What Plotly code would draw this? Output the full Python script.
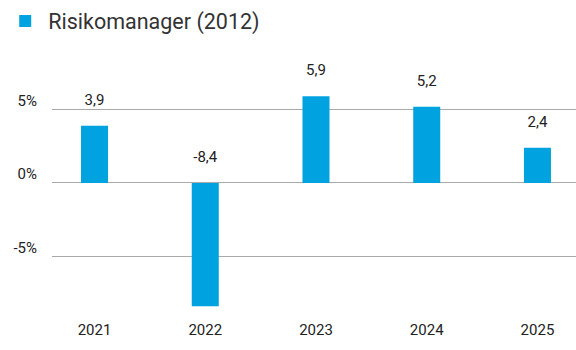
import plotly.graph_objects as go

years = ["2021", "2022", "2023", "2024", "2025"]
values = [3.9, -8.4, 5.9, 5.2, 2.4]
series_name = "Risikomanager (2012)"
y_ticks = [-5, 0, 5]
y_tick_labels = ["-5%", "0%", "5%"]

BLUE = "#00A3DF"
FONT = "Roboto, Arial, sans-serif"

fig = go.Figure()
fig.add_trace(go.Bar(
    x=years, y=values, name=series_name,
    marker=dict(color=BLUE, line=dict(width=0)),
    width=0.244, showlegend=True,
))

# value labels sit above the bar top, or above the baseline for negatives;
# a transparent marker pads the text away from the bar end
label_y = [max(v, 0) for v in values]
label_text = [f"{v:.1f}".replace(".", ",") for v in values]
fig.add_trace(go.Scatter(
    x=years, y=label_y, text=label_text, mode="markers+text",
    marker=dict(size=26, color="rgba(0,0,0,0)"),
    textposition="top center",
    textfont=dict(family=FONT, size=15, color="#222222"),
    showlegend=False, hoverinfo="skip", cliponaxis=False,
))

fig.update_layout(
    width=576, height=350,
    margin=dict(l=52, r=0, t=60, b=35),
    paper_bgcolor="white", plot_bgcolor="white",
    font=dict(family=FONT, size=15, color="#222222"),
    showlegend=True,
    legend=dict(
        x=-0.095, xanchor="left", y=1.243, yanchor="top",
        orientation="h", itemwidth=36,
        font=dict(family=FONT, size=21.5, color="#333333"),
        bgcolor="rgba(0,0,0,0)",
    ),
    xaxis=dict(
        type="category", range=[-0.384, 4.348],
        showgrid=False, showline=False, zeroline=False, ticks="",
        ticklabelstandoff=4,
        tickfont=dict(family=FONT, size=15, color="#222222"),
    ),
    yaxis=dict(
        range=[-8.99, 8.24], tickvals=y_ticks, ticktext=y_tick_labels,
        showgrid=True, gridcolor="#AAAAAA", gridwidth=1,
        zeroline=False, showline=False, ticks="",
        ticklabelstandoff=14, ticklabelshift=-9,
        tickfont=dict(family=FONT, size=15, color="#222222"),
    ),
)

fig.write_html("out.html")
